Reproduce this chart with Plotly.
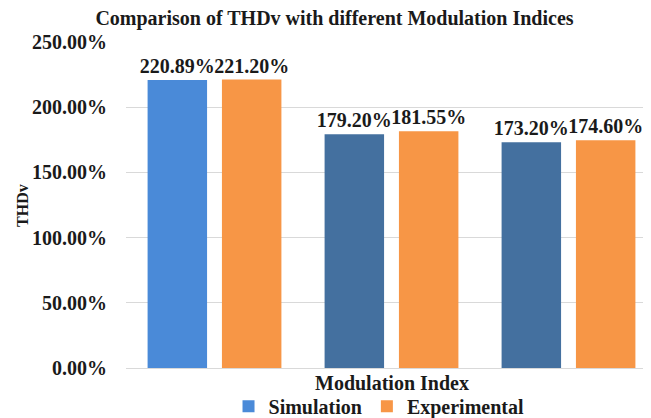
import plotly.graph_objects as go

categories = ["0.8", "0.9", "1.0"]
simulation = [220.89, 179.20, 173.20]
experimental = [221.20, 181.55, 174.60]
sim_labels = ["220.89%", "179.20%", "173.20%"]
exp_labels = ["221.20%", "181.55%", "174.60%"]
y_ticks = [0, 50, 100, 150, 200, 250]
y_tick_text = ["0.00%", "50.00%", "100.00%", "150.00%", "200.00%", "250.00%"]

FONT = "Liberation Serif, Times New Roman, serif"
TXT = "#1a1a1a"
sim_colors = ["#4A8AD8", "#44709F", "#44709F"]

fig = go.Figure()
fig.add_trace(go.Bar(
    name="<b>Simulation</b>", x=[0, 1, 2], y=simulation,
    text=["<b>%s</b>" % t for t in sim_labels],
    textposition="outside", constraintext="none", textangle=0,
    marker=dict(color=sim_colors, line=dict(width=0)),
    outsidetextfont=dict(family=FONT, size=20, color=TXT),
    cliponaxis=False,
))
fig.add_trace(go.Bar(
    name="<b>Experimental</b>", x=[0, 1, 2], y=experimental,
    text=["<b>%s</b>" % t for t in exp_labels],
    textposition="outside", constraintext="none", textangle=0,
    marker=dict(color="#F79646", line=dict(width=0)),
    outsidetextfont=dict(family=FONT, size=20, color=TXT),
    cliponaxis=False,
))
fig.update_layout(
    width=651, height=418,
    margin=dict(l=118, r=2, t=34, b=58, autoexpand=False),
    plot_bgcolor="white", paper_bgcolor="white",
    barmode="group", bargap=0.16, bargroupgap=0.2,
    font=dict(family=FONT, color=TXT),
    title=dict(text="<b>Comparison of THDv with different Modulation Indices</b>",
               x=0.5015, xanchor="center", y=0.975, yanchor="middle",
               font=dict(family=FONT, size=20, color=TXT)),
    xaxis=dict(range=[-0.5, 2.5], showticklabels=False, showgrid=False,
               zeroline=False, showline=True, linecolor="#D9D9D9", ticks="",
               automargin=False),
    yaxis=dict(range=[0, 250], tickvals=y_ticks,
               ticktext=["<b>%s</b>" % t for t in y_tick_text],
               tickfont=dict(family=FONT, size=20, color=TXT),
               showgrid=True, gridcolor="#D9D9D9", zeroline=False, ticks="",
               ticklabelstandoff=18, showline=False, automargin=False),
    showlegend=True,
    legend=dict(orientation="h", x=0.4765, xanchor="center", yref="container",
                y=0.047, yanchor="middle",
                font=dict(family=FONT, size=20, color=TXT), traceorder="normal",
                itemwidth=30, tracegroupgap=0),
)
fig.add_annotation(text="<b>Modulation Index</b>", xref="x", yref="paper", x=1, y=-0.046,
                   xanchor="center", yanchor="middle", showarrow=False,
                   font=dict(family=FONT, size=20, color=TXT))
fig.add_annotation(text="<b>THDv</b>", xref="paper", yref="paper", x=-0.196, y=0.5,
                   textangle=-90, xanchor="center", yanchor="middle", showarrow=False,
                   font=dict(family=FONT, size=16, color=TXT))
fig.write_html("out.html")
